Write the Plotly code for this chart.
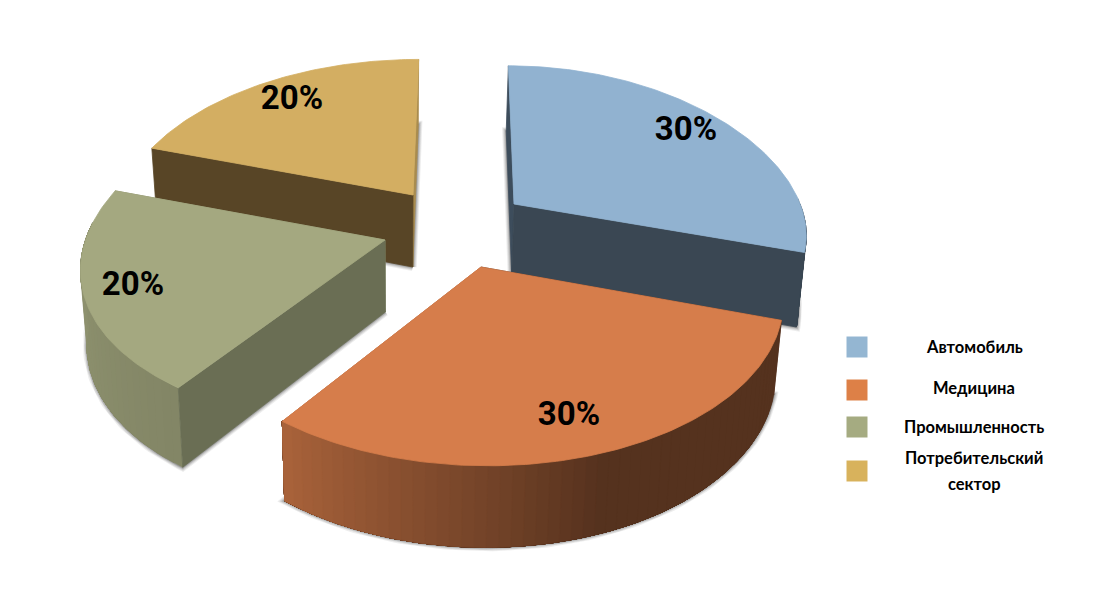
import numpy as np
import plotly.graph_objects as go

# ---- data ----
categories = ["Автомобиль", "Медицина", "Промышленность", "Потребительский\nсектор"]
shares = [30, 30, 20, 20]

# ---- style ----
top_colors = ["#91b2d0", "#d67d4b", "#a4a880", "#d3ae62"]
legend_colors = ["#94b6d2", "#dd8047", "#a5ab81", "#d8b25c"]
start_wall_colors = ["#3d4d5c", "#573120", "#6a6e54", "#584526"]
end_wall_colors = ["#3a4753", "#ad633c", "#8a8f6c", "#a98c4e"]
draw_order = [3, 0, 2, 1]
near_wall = ["end", None, "start", "start"]

# ---- projection / layout ----
W, H = 1116, 594
VANISH_X = 450.0
PERSPECTIVE = 0.18
RADIUS_X = 295.0
DEPTH = 72.0
pie_center = (450.0, 240.0)
explode = [(64, -36), (31, 27), (-65, 0), (-37, -45)]
slice_scale = [0.97, 1.005, 1.015, 0.99]
slice_radius_y = [152.0, 163.0, 165.0, 160.0]
slice_persp_y = [0.10, 0.18, 0.12, 0.18]
slice_shear = [-0.03, 0.0, 0.07, 0.0]
label_offset = [(172, -72), (88, 150), (-252, 47), (-121, -94)]
legend_y = [347, 390, 427, 471]
legend_text_y = [[347], [388], [427], [458, 484]]
legend_x, legend_text_x = 857, 974
RIM_LIMITS = (88.0, 276.0)


def project(theta_deg, ax, ay, i):
    th = np.radians(theta_deg)
    u, v = np.sin(th), np.cos(th)
    s = 1.0 / (1.0 + PERSPECTIVE * v)
    sy = 1.0 / (1.0 + slice_persp_y[i] * v)
    y = ay - slice_radius_y[i] * v * sy
    x = VANISH_X + (ax - VANISH_X + RADIUS_X * slice_scale[i] * u) * s
    x = x + slice_shear[i] * (y - ay)
    return x, y, s


def lower(x, y, s):
    depth = DEPTH * (1 + 0.6 * (s - 1))
    return x + (400.0 - x) * 0.02, y + depth


def hex_rgb(h):
    return tuple(int(h[i:i + 2], 16) for i in (1, 3, 5))


def shade(h, f):
    r, g, b = hex_rgb(h)
    return f"rgb({int(r * f)},{int(g * f)},{int(b * f)})"


def wall_factor(th):
    t = th % 360
    return float(np.interp(t, [90, 160, 180, 216, 262, 290, 360],
                           [.40, .40, .55, .80, .87, .75, .75]))


def poly(fig, xs, ys, color, width=0.8):
    fig.add_trace(go.Scatter(x=list(xs) + [xs[0]], y=list(ys) + [ys[0]], mode="lines",
                             fill="toself", fillcolor=color,
                             line=dict(color=color, width=width),
                             hoverinfo="skip", showlegend=False))


fig = go.Figure()
edges = np.cumsum([0] + shares) / sum(shares) * 360.0

for i in draw_order:
    a0, a1 = edges[i], edges[i + 1]
    ax, ay = pie_center[0] + explode[i][0], pie_center[1] + explode[i][1]
    thetas = np.linspace(a0, a1, int(a1 - a0) + 1)
    px, py, ps = project(thetas, ax, ay, i)
    bx, by = lower(px, py, ps)
    abx, aby = lower(ax, ay, 1.0)

    # soft shadow round the base
    sx = [abx] + list(bx) + [abx]
    sy = [aby] + list(by) + [aby]
    for width, alpha in [(8, 0.10), (6, 0.14), (4, 0.20), (2, 0.30)]:
        fig.add_trace(go.Scatter(x=sx, y=sy, mode="lines",
                                 line=dict(color=f"rgba(80,80,80,{alpha})", width=width),
                                 hoverinfo="skip", showlegend=False))

    start_wall = ([ax, px[0], bx[0], abx], [ay, py[0], by[0], aby], start_wall_colors[i])
    end_wall = ([ax, px[-1], bx[-1], abx], [ay, py[-1], by[-1], aby], end_wall_colors[i])

    # walls turned away from the viewer first
    if near_wall[i] != "start":
        poly(fig, *start_wall)
    if near_wall[i] != "end":
        poly(fig, *end_wall)

    # curved rim: each shade paints over the rest of the rim, so no seams appear
    keep = np.where((thetas >= RIM_LIMITS[0]) & (thetas <= RIM_LIMITS[1]))[0]
    step = 2
    for j in range(0, len(keep) - 1, step):
        idx = keep[j:]
        col = shade(top_colors[i], wall_factor(thetas[keep[j]]))
        poly(fig, list(px[idx]) + list(bx[idx])[::-1], list(py[idx]) + list(by[idx])[::-1], col, 0.5)

    if near_wall[i] == "start":
        poly(fig, *start_wall)
    if near_wall[i] == "end":
        poly(fig, *end_wall)

    # top face
    poly(fig, [ax] + list(px), [ay] + list(py), top_colors[i])

# percentage labels
lx = [pie_center[0] + explode[i][0] + label_offset[i][0] for i in range(4)]
ly = [pie_center[1] + explode[i][1] + label_offset[i][1] for i in range(4)]
fig.add_trace(go.Scatter(x=lx, y=ly, mode="text", text=[f"{v}%" for v in shares],
                         textposition="middle center",
                         textfont=dict(family="Roboto", size=33, color="#000000", weight="bold"),
                         hoverinfo="skip", showlegend=False))

# legend
fig.add_trace(go.Scatter(x=[legend_x] * 4, y=legend_y, mode="markers",
                         marker=dict(symbol="square", size=21, color=legend_colors),
                         text=categories, hoverinfo="text", showlegend=False))
for cat, ys in zip(categories, legend_text_y):
    for part, y in zip(cat.split("\n"), ys):
        fig.add_annotation(x=legend_text_x, y=y, text=part, showarrow=False,
                           xanchor="center", yanchor="middle",
                           font=dict(family="Lato", size=16.5, color="#000000", weight="bold"))

fig.update_layout(width=W, height=H, autosize=False,
                  margin=dict(l=0, r=0, t=0, b=0),
                  paper_bgcolor="white", plot_bgcolor="white",
                  xaxis=dict(range=[0, W], visible=False, fixedrange=True),
                  yaxis=dict(range=[H, 0], visible=False, fixedrange=True))
fig.write_html("out.html", config={"displayModeBar": False},
               post_script="document.body.style.margin='0';")
